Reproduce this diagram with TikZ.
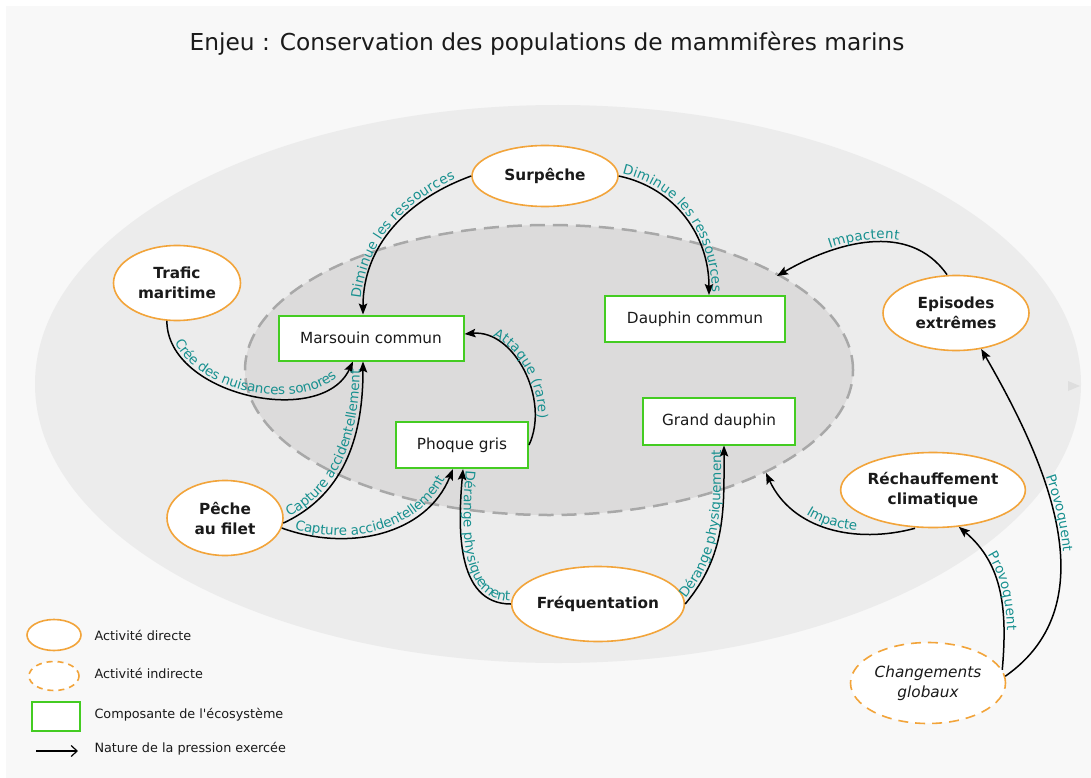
\documentclass[tikz,border=0pt]{standalone}
\usepackage{fontspec}
\setmainfont{DejaVu Sans}
\usetikzlibrary{shapes.geometric,arrows.meta,decorations.text}
\definecolor{bgc}{HTML}{F8F8F8}
\definecolor{outc}{HTML}{ECECEC}
\definecolor{inc}{HTML}{DCDBDB}
\definecolor{dashc}{HTML}{A8A8A8}
\definecolor{actc}{HTML}{F2A43A}
\definecolor{ecoc}{HTML}{44CC22}
\definecolor{labc}{HTML}{17908F}
\definecolor{txtc}{HTML}{1A1A1A}
\newcommand\lblfont{\fontsize{13.5}{15}\selectfont\color{labc}}
\newcommand\straightquote{{\XeTeXglyph\XeTeXcharglyph"27\relax}}
\tikzset{
  act/.style={ellipse, draw=actc, line width=1.6pt, fill=white, align=center, inner sep=0pt,
    font=\bfseries\fontsize{15.3}{20}\selectfont, text=txtc},
  indir/.style={act, dashed, dash pattern=on 10pt off 7pt},
  eco/.style={rectangle, draw=ecoc, line width=2pt, fill=white, inner sep=0pt,
    font=\fontsize{15.3}{18}\selectfont, text=txtc},
  conn/.style={line width=1.5pt, -{Stealth[length=11pt,width=8.5pt,inset=2pt]}},
  lbl/.style={decorate, decoration={text along path, text align=center, raise=3pt, text={|\lblfont|#1}}},
  legtext/.style={anchor=west, font=\fontsize{12.8}{14}\selectfont, text=txtc},
}
\begin{document}
\begin{tikzpicture}[x=1pt,y=1pt]
\useasboundingbox (0,0) rectangle (1091,-778);
\fill[white] (0,0) rectangle (1091,-778);
\fill[bgc] (6,-6) rectangle (1091,-778);
% zones
\fill[outc] (558,-384) ellipse [x radius=523, y radius=279];
\filldraw[fill=inc, draw=dashc, line width=2.5pt, dash pattern=on 15pt off 8pt] (549,-370) ellipse [x radius=304, y radius=145];
\fill[black!13] (1068,-381) -- (1080,-386) -- (1068,-391) -- cycle;
% title
\node[font=\fontsize{23.3}{26}\selectfont, text=txtc] (title) at (547,-44) {Enjeu : Conservation des populations de mammifères marins};
% nodes
\node[act, minimum width=146pt, minimum height=61pt] (surp) at (545,-176) {Surpêche};
\node[act, minimum width=127pt, minimum height=75pt] (trafic) at (177,-283) {Trafic\\maritime};
\node[act, minimum width=116pt, minimum height=75pt] (peche) at (225,-518) {Pêche\\au filet};
\node[act, minimum width=171pt, minimum height=75pt] (freq) at (598,-604) {Fréquentation};
\node[act, minimum width=146pt, minimum height=75pt] (epis) at (956,-313) {Episodes\\extrêmes};
\node[act, minimum width=171pt, minimum height=75pt] (rech) at (933,-490) {Réchauffement\\climatique};
\node[indir, minimum width=155pt, minimum height=81pt, font=\itshape\fontsize{15.3}{20}\selectfont] (chang) at (928,-683) {Changements\\globaux};
\node[eco, minimum width=185pt, minimum height=45pt] (mars) at (371,-338) {Marsouin commun};
\node[eco, minimum width=180pt, minimum height=46pt] (dauph) at (695,-319) {Dauphin commun};
\node[eco, minimum width=132pt, minimum height=46pt] (phoque) at (462,-445) {Phoque gris};
\node[eco, minimum width=152pt, minimum height=47pt] (grand) at (719,-421) {Grand dauphin};
\coordinate (impE) at (777,-276);
\coordinate (impR) at (766,-473);
% connectors
\draw[conn] (surp.west) to[out=200,in=90] ([xshift=-8pt]mars.north);
\path[lbl={Diminue les ressources}] ([xshift=-8pt]mars.north) to[out=90,in=200] (surp.west);
\draw[conn] (surp.east) to[out=-12,in=90] ([xshift=14pt]dauph.north);
\path[lbl={Diminue les ressources}] (surp.east) to[out=-12,in=90] ([xshift=14pt]dauph.north);
\draw[conn] (trafic.255) to[out=-90,in=-115] ([xshift=-18pt]mars.south);
\path[lbl={Crée des nuisances sonores}] (trafic.255) to[out=-90,in=-115] ([xshift=-18pt]mars.south);
\draw[conn] (peche.-5) to[out=25,in=-90] ([xshift=-8pt]mars.south);
\path[lbl={Capture accidentellement}] (peche.-5) to[out=25,in=-90] ([xshift=-8pt]mars.south);
\draw[conn] (peche.-10) to[out=-20,in=-112] ([xshift=-9pt]phoque.south);
\path[lbl={Capture accidentellement}] (peche.-10) to[out=-20,in=-112] ([xshift=-9pt]phoque.south);
\draw[conn] (freq.west) to[out=180,in=-95] ([xshift=1pt]phoque.south);
\path[lbl={Dérange physiquement}] ([xshift=1pt]phoque.south) to[out=-95,in=180] (freq.west);
\draw[conn] (freq.east) to[out=50,in=-90] ([xshift=5pt]grand.south);
\path[lbl={Dérange physiquement}] (freq.east) to[out=50,in=-90] ([xshift=5pt]grand.south);
\draw[conn] (phoque.east) to[out=65,in=5] ([yshift=4pt]mars.east);
\path[lbl={Attaque (rare)}] ([yshift=4pt]mars.east) to[out=5,in=65] (phoque.east);
\draw[conn] ([xshift=-9pt]epis.north) to[out=125,in=30] (impE);
\path[lbl={Impactent}] (impE) to[out=30,in=125] ([xshift=-9pt]epis.north);
\draw[conn] ([xshift=-18pt]rech.south) to[out=195,in=-65] (impR);
\path[lbl={Impacte}] (impR) to[out=-65,in=195] ([xshift=-18pt]rech.south);
\draw[conn] (chang.10) to[out=85,in=-40] (rech.-55);
\path[lbl={Provoquent}] (rech.-55) to[out=-40,in=85] (chang.10);
\draw[conn] (chang.5) to[out=35,in=-60] (epis.-55);
\path[lbl={Provoquent}] (epis.-55) to[out=-60,in=35] (chang.5);
% legend
\node[ellipse, draw=actc, line width=1.6pt, fill=white, minimum width=54pt, minimum height=31pt, inner sep=0pt] (lg1) at (54,-635) {};
\node[ellipse, draw=actc, line width=1.6pt, dash pattern=on 6pt off 5pt, fill=white, minimum width=50pt, minimum height=29pt, inner sep=0pt] (lg2) at (54,-676) {};
\node[rectangle, draw=ecoc, line width=2pt, fill=white, minimum width=48pt, minimum height=29pt, inner sep=0pt] (lg3) at (56,-716) {};
\coordinate (lga) at (36,-751);
\coordinate (lgb) at (78,-751);
\draw[line width=1.2pt, -{Straight Barb[length=6pt,width=11pt]}] (lga) -- (lgb);
\node[legtext] (lt1) at (91,-635) {Activité directe};
\node[legtext] (lt2) at (91,-673) {Activité indirecte};
\node[legtext] (lt3) at (91,-715) {Composante de l\straightquote écosystème};
\node[legtext] (lt4) at (91,-749) {Nature de la pression exercée};
\end{tikzpicture}
\end{document}
